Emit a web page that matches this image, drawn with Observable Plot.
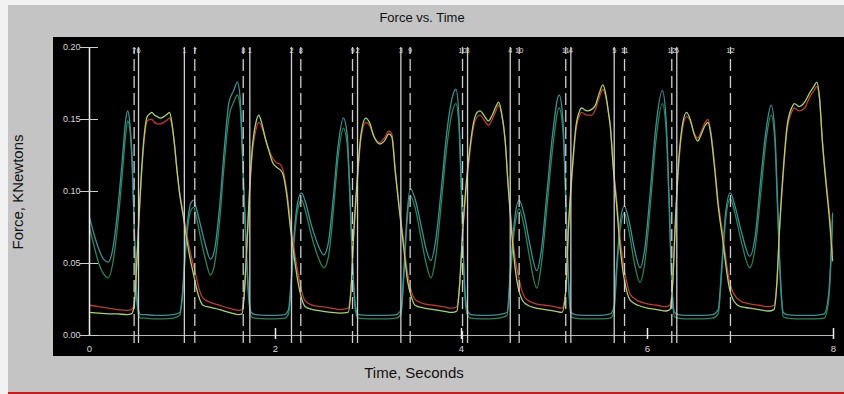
<!DOCTYPE html>
<html><head><meta charset="utf-8">
<script src="https://cdn.jsdelivr.net/npm/d3@7"></script>
<script src="https://cdn.jsdelivr.net/npm/@observablehq/plot@0.6"></script>
<style>
body{margin:0;background:#fff;font-family:"Liberation Sans",Arial,sans-serif}
#wrap{position:relative;width:844px;height:394px;overflow:hidden;background:#f2f2f2}
#bg{position:absolute;left:8px;top:5px;width:836px;height:389px;background:#c4c4c4}
#red{position:absolute;left:8px;top:392px;width:836px;height:2px;background:#e01010}
#title{position:absolute;left:422px;top:10px;transform:translateX(-50%);font-size:13px;line-height:16px;color:#111;white-space:nowrap}
#xlabel{position:absolute;left:414px;top:364px;transform:translateX(-50%);font-size:15px;line-height:18px;color:#111;white-space:nowrap}
#ylabel{position:absolute;left:18px;top:192px;transform:translate(-50%,-50%) rotate(-90deg);font-size:15px;line-height:18px;color:#111;white-space:nowrap}
#chart{position:absolute;left:53px;top:37px;width:791px;height:319px;background:#000}
</style></head>
<body>
<div id="wrap">
  <div id="bg"></div>
  <div id="red"></div>
  <div id="title">Force vs. Time</div>
  <div id="ylabel">Force, KNewtons</div>
  <div id="xlabel">Time, Seconds</div>
  <div id="chart"></div>
</div>
<script>
// ---- data ----
const xTicks = [0, 2, 4, 6, 8];
const yTicks = [0, 0.05, 0.10, 0.15, 0.20];

const solidT = [0.527, 1.020, 1.724, 2.172, 2.882, 3.348, 4.065, 4.524, 5.176, 5.642, 6.315];
const solidLbl = ["6", "1", "1", "2", "2", "3", "3", "4", "4", "5", "5"];
const dashT = [0.480, 1.132, 1.653, 2.272, 2.828, 3.448, 4.011, 4.620, 5.121, 5.753, 6.261, 6.892];
const dashLbl = ["7", "7", "8", "8", "9", "9", "10", "10", "11", "11", "12", "12"];

const tA = [0.00,0.05,0.10,0.15,0.20,0.25,0.30,0.35,0.39,0.41,0.43,0.46,0.48,0.50,0.52,0.55,
  0.60,0.70,0.80,0.90,0.97,
  1.00,1.03,1.06,1.09,1.12,1.15,1.20,1.25,1.30,1.34,1.40,1.45,1.50,1.55,1.59,1.62,1.65,1.68,1.71,1.74,1.78,
  1.90,2.00,2.10,2.14,
  2.17,2.20,2.24,2.28,2.32,2.38,2.45,2.52,2.57,2.62,2.67,2.73,2.77,2.80,2.83,2.86,2.89,
  3.00,3.10,3.20,3.30,3.35,
  3.38,3.41,3.45,3.50,3.57,3.62,3.67,3.72,3.78,3.84,3.90,3.94,3.97,4.00,4.03,4.06,4.10,
  4.20,4.30,4.40,4.49,
  4.53,4.57,4.62,4.67,4.73,4.81,4.86,4.92,4.98,5.05,5.09,5.12,5.15,5.18,5.22,
  5.30,5.40,5.50,5.60,5.64,
  5.67,5.71,5.75,5.80,5.86,5.92,5.97,6.03,6.09,6.16,6.20,6.23,6.26,6.29,6.33,
  6.40,6.50,6.60,6.70,6.76,
  6.80,6.84,6.89,6.94,7.01,7.10,7.16,7.22,7.28,7.33,7.37,7.40,7.43,7.46,7.50,
  7.60,7.70,7.80,7.90,7.95,7.99];

const fA1 = [0.082,0.070,0.060,0.053,0.051,0.060,0.085,0.120,0.150,0.156,0.150,0.120,0.080,0.040,0.020,0.0145,
  0.0145,0.014,0.014,0.0145,0.016,
  0.030,0.060,0.082,0.092,0.094,0.088,0.075,0.062,0.053,0.058,0.090,0.130,0.162,0.170,0.176,0.165,0.120,0.070,0.030,0.016,0.0145,
  0.014,0.014,0.0145,0.018,
  0.040,0.070,0.093,0.099,0.093,0.078,0.064,0.056,0.065,0.095,0.130,0.151,0.140,0.100,0.050,0.020,0.0145,
  0.014,0.014,0.014,0.0145,0.018,
  0.045,0.080,0.102,0.095,0.075,0.060,0.052,0.065,0.100,0.140,0.165,0.171,0.155,0.100,0.040,0.018,0.0145,
  0.014,0.014,0.0145,0.016,
  0.050,0.080,0.094,0.085,0.065,0.045,0.060,0.100,0.140,0.167,0.150,0.100,0.040,0.016,0.0145,
  0.014,0.014,0.014,0.015,0.020,
  0.050,0.080,0.090,0.080,0.060,0.047,0.060,0.100,0.145,0.170,0.150,0.100,0.040,0.016,0.0145,
  0.014,0.014,0.014,0.0145,0.018,
  0.050,0.085,0.099,0.090,0.072,0.055,0.070,0.110,0.145,0.160,0.140,0.090,0.040,0.016,0.0145,
  0.014,0.014,0.014,0.015,0.030,0.085];

const fA2 = [0.075,0.062,0.050,0.043,0.040,0.050,0.075,0.110,0.140,0.149,0.145,0.115,0.075,0.036,0.017,0.012,
  0.012,0.0115,0.0115,0.012,0.014,
  0.027,0.055,0.077,0.087,0.089,0.082,0.066,0.052,0.042,0.048,0.080,0.120,0.152,0.162,0.167,0.158,0.115,0.065,0.027,0.013,0.012,
  0.0115,0.0115,0.012,0.015,
  0.036,0.065,0.088,0.094,0.087,0.071,0.056,0.047,0.055,0.085,0.122,0.144,0.133,0.095,0.046,0.017,0.012,
  0.0115,0.0115,0.0115,0.012,0.015,
  0.041,0.075,0.097,0.089,0.066,0.050,0.040,0.053,0.090,0.130,0.155,0.161,0.148,0.095,0.036,0.015,0.012,
  0.0115,0.0115,0.012,0.014,
  0.045,0.074,0.088,0.077,0.055,0.033,0.050,0.090,0.130,0.158,0.143,0.095,0.036,0.013,0.012,
  0.0115,0.0115,0.0115,0.012,0.017,
  0.045,0.075,0.085,0.073,0.050,0.037,0.050,0.090,0.135,0.161,0.143,0.095,0.036,0.013,0.012,
  0.0115,0.0115,0.0115,0.012,0.015,
  0.046,0.080,0.095,0.085,0.065,0.047,0.062,0.100,0.138,0.153,0.134,0.085,0.036,0.013,0.012,
  0.0115,0.0115,0.0115,0.012,0.026,0.080];

const tB = [0.00,0.10,0.20,0.30,0.40,0.45,0.48,
  0.50,0.53,0.56,0.59,0.62,0.65,0.67,0.70,0.73,0.76,0.80,0.84,0.86,0.88,0.91,0.94,0.97,1.01,1.05,1.08,1.12,1.15,1.18,1.22,1.30,1.40,1.50,1.60,1.64,1.66,
  1.69,1.72,1.75,1.79,1.82,1.85,1.89,1.93,1.97,2.01,2.05,2.08,2.12,2.16,2.20,2.24,2.28,2.32,2.40,2.50,2.60,2.70,2.78,2.81,
  2.84,2.88,2.92,2.97,3.01,3.06,3.12,3.17,3.22,3.25,3.29,3.33,3.37,3.42,3.46,3.50,3.60,3.70,3.80,3.90,3.95,3.98,
  4.01,4.05,4.09,4.13,4.17,4.20,4.24,4.29,4.33,4.37,4.40,4.43,4.47,4.50,4.54,4.58,4.61,4.65,4.70,4.80,4.90,5.00,5.08,5.12,
  5.15,5.19,5.23,5.27,5.29,5.35,5.40,5.44,5.48,5.52,5.55,5.58,5.60,5.63,5.67,5.70,5.74,5.78,5.82,5.90,6.00,6.10,6.20,6.24,6.27,
  6.30,6.34,6.38,6.42,6.46,6.50,6.54,6.58,6.62,6.65,6.68,6.72,6.76,6.81,6.85,6.88,6.92,7.00,7.10,7.20,7.30,7.36,7.39,
  7.42,7.46,7.50,7.55,7.58,7.63,7.69,7.74,7.79,7.82,7.85,7.88,7.92,7.96,7.99];

const fB1 = [0.016,0.0155,0.015,0.015,0.0145,0.015,0.020,
  0.040,0.080,0.115,0.140,0.152,0.154,0.155,0.153,0.152,0.151,0.152,0.154,0.155,0.150,0.135,0.115,0.098,0.082,0.065,0.054,0.042,0.033,0.026,0.021,0.0195,0.018,0.016,0.0145,0.015,0.025,
  0.060,0.100,0.130,0.148,0.153,0.148,0.137,0.128,0.120,0.117,0.115,0.112,0.098,0.075,0.055,0.038,0.026,0.020,0.018,0.017,0.016,0.0155,0.016,0.030,
  0.070,0.110,0.140,0.151,0.148,0.138,0.133,0.135,0.140,0.138,0.112,0.088,0.066,0.038,0.027,0.021,0.019,0.018,0.017,0.016,0.017,0.035,
  0.070,0.105,0.130,0.148,0.155,0.156,0.153,0.149,0.153,0.159,0.162,0.155,0.135,0.105,0.071,0.045,0.033,0.025,0.0215,0.019,0.018,0.017,0.016,0.030,
  0.075,0.115,0.145,0.156,0.158,0.156,0.157,0.160,0.168,0.174,0.168,0.155,0.145,0.118,0.089,0.065,0.043,0.030,0.024,0.021,0.019,0.018,0.017,0.018,0.035,
  0.080,0.125,0.148,0.155,0.150,0.140,0.135,0.140,0.146,0.148,0.140,0.117,0.090,0.066,0.045,0.033,0.025,0.020,0.019,0.018,0.017,0.018,0.035,
  0.075,0.115,0.145,0.158,0.161,0.159,0.162,0.168,0.173,0.176,0.165,0.135,0.105,0.078,0.052];

const fB2 = [0.021,0.020,0.019,0.018,0.0175,0.018,0.022,
  0.040,0.078,0.112,0.137,0.149,0.150,0.150,0.148,0.147,0.147,0.148,0.150,0.151,0.148,0.135,0.116,0.099,0.084,0.069,0.059,0.048,0.040,0.032,0.026,0.023,0.021,0.019,0.0175,0.018,0.026,
  0.058,0.097,0.126,0.143,0.148,0.145,0.137,0.129,0.123,0.120,0.119,0.115,0.101,0.079,0.060,0.044,0.031,0.024,0.021,0.020,0.019,0.018,0.019,0.031,
  0.068,0.107,0.137,0.148,0.146,0.138,0.134,0.137,0.142,0.140,0.114,0.090,0.069,0.043,0.031,0.025,0.022,0.021,0.020,0.019,0.020,0.036,
  0.068,0.102,0.127,0.145,0.152,0.153,0.150,0.146,0.150,0.156,0.160,0.154,0.135,0.107,0.075,0.052,0.042,0.031,0.025,0.022,0.021,0.020,0.019,0.031,
  0.073,0.112,0.142,0.153,0.155,0.153,0.153,0.157,0.165,0.171,0.166,0.155,0.146,0.120,0.093,0.071,0.050,0.036,0.028,0.024,0.022,0.021,0.020,0.021,0.036,
  0.078,0.122,0.145,0.152,0.149,0.141,0.137,0.142,0.148,0.150,0.142,0.120,0.093,0.070,0.050,0.038,0.030,0.024,0.022,0.021,0.020,0.021,0.036,
  0.073,0.112,0.142,0.155,0.158,0.156,0.158,0.165,0.170,0.173,0.164,0.136,0.108,0.082,0.057];

// ---- build ----
const W = 791, H = 319, mL = 36, mR = 11, mT = 10, mB = 21;
const pxPerSec = (W - mL - mR) / 8;
const tickHalf = 9 / pxPerSec;

const seriesA1 = tA.map((t, i) => ({t, f: fA1[i]}));
const seriesA2 = tA.map((t, i) => ({t, f: fA2[i]}));
const seriesB1 = tB.map((t, i) => ({t, f: fB1[i]}));
const seriesB2 = tB.map((t, i) => ({t, f: fB2[i]}));
const solidRows = solidT.map((t, i) => ({t, label: solidLbl[i]}));
const dashRows = dashT.map((t, i) => ({t, label: dashLbl[i]}));

const lineOpts = {x: "t", y: "f", strokeWidth: 1.3, curve: "monotone-x"};

const chart = Plot.plot({
  width: W, height: H,
  marginLeft: mL, marginRight: mR, marginTop: mT, marginBottom: mB,
  style: {background: "#000", color: "#ddd", fontFamily: "Liberation Sans, Arial, sans-serif", fontSize: "9px", overflow: "visible"},
  x: {domain: [0, 8], axis: null},
  y: {domain: [0, 0.2], axis: null},
  marks: [
    Plot.ruleY([0], {x1: 0, x2: 8, stroke: "#b8b8b8", strokeWidth: 1}),
    Plot.line(seriesA2, {...lineOpts, stroke: "#2b8558"}),
    Plot.line(seriesA1, {...lineOpts, stroke: "#3a9096"}),
    Plot.line(seriesB2, {...lineOpts, stroke: "#c23a2c"}),
    Plot.line(seriesB1, {...lineOpts, stroke: "#a4d46e"}),
    Plot.ruleX(solidRows, {x: "t", y1: 0, y2: 0.2, insetTop: 8, stroke: "#cfcfcf", strokeWidth: 1.3}),
    Plot.ruleX(dashRows, {x: "t", y1: 0, y2: 0.2, insetTop: 8, stroke: "#cfcfcf", strokeWidth: 1.3, strokeDasharray: "12,5"}),
    Plot.text(solidRows, {x: "t", y: 0.2, text: "label", dy: 3.5, fontSize: 7.5, fill: "#d8d8d8"}),
    Plot.text(dashRows, {x: "t", y: 0.2, text: "label", dy: 3.5, fontSize: 7.5, fill: "#d8d8d8"}),
    Plot.ruleX([0], {y1: 0, y2: 0.2, stroke: "#f0f0f0", strokeWidth: 1.5}),
    Plot.ruleY(yTicks, {y: d => d, x1: -tickHalf, x2: tickHalf, stroke: "#d0d0d0", strokeWidth: 1}),
    Plot.text(yTicks, {x: 0, y: d => d, text: d => d.toFixed(2), dx: -9, textAnchor: "end", fill: "#d8d8d8", fontSize: 9}),
    Plot.ruleX(xTicks.filter(d => d > 0), {x: d => d, y1: 0, y2: 0, insetTop: -7, insetBottom: -4, stroke: "#eeeeee", strokeWidth: 1.5}),
    Plot.text(xTicks, {x: d => d, y: 0, text: d => String(d), dy: 13, fill: "#d8d8d8", fontSize: 9.5})
  ]
});
document.getElementById("chart").appendChild(chart);
</script>
</body></html>
